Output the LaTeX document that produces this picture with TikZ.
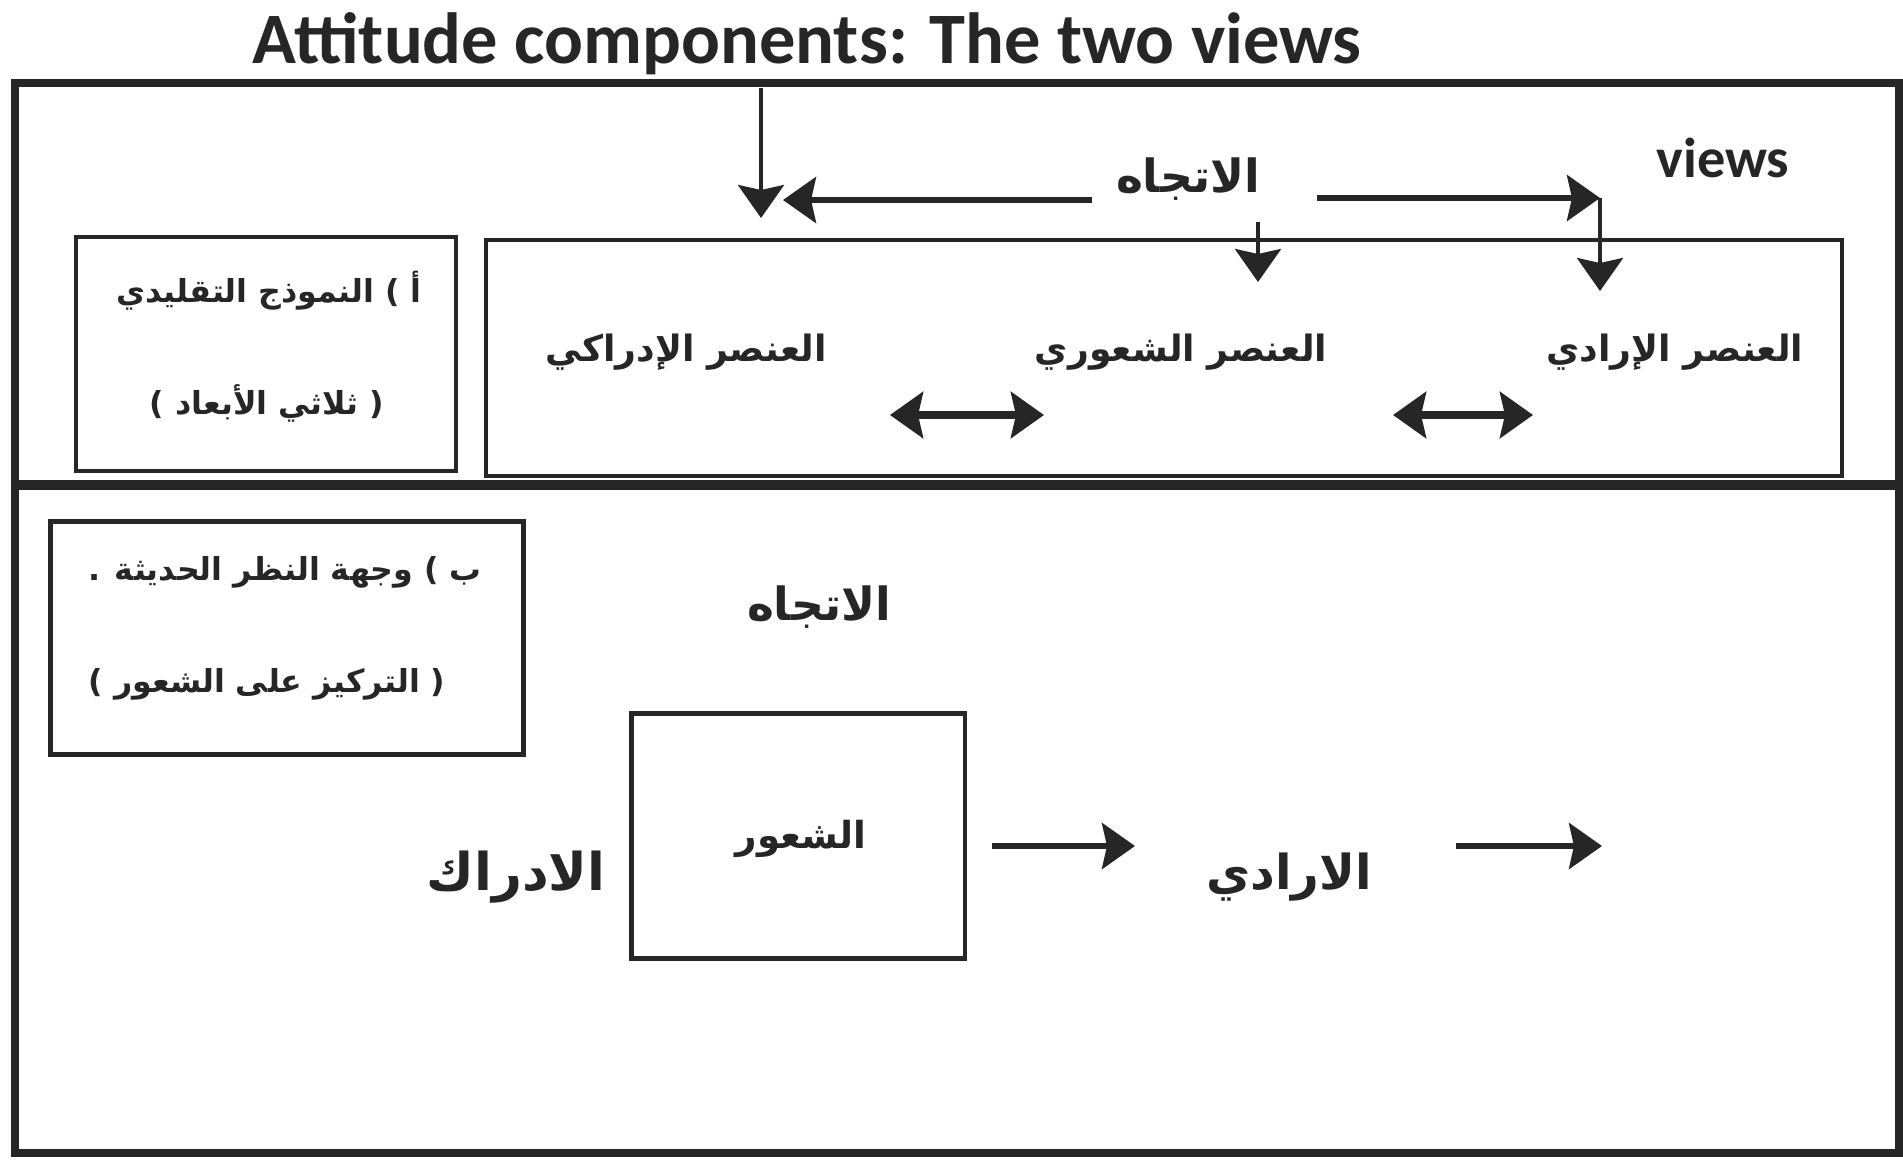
\documentclass[tikz,border=0pt]{standalone}
\usepackage{fontspec}
\setmainfont{Carlito}
\newfontfamily\arabicfont[Script=Arabic]{DejaVu Sans}
\TeXXeTstate=1
\usetikzlibrary{arrows.meta}

\begin{document}
\begin{tikzpicture}[x=0.01cm, y=-0.01cm, >={Stealth[length=3.3mm,width=4.6mm,inset=0.5mm]},
  every node/.style={text=black!85},
  frame/.style={draw=black!85, line width=2.3pt},
  box/.style={draw=black!85, line width=1.2pt},
  artiny/.style={font=\arabicfont\bfseries\fontsize{9}{11}\selectfont},
  arsmall/.style={font=\arabicfont\bfseries\fontsize{10.3}{12}\selectfont},
  arbig/.style={font=\arabicfont\bfseries\fontsize{13}{15}\selectfont},
  conn/.style={->, line width=1.5pt, draw=black!85}]
  \useasboundingbox (0,0) rectangle (1903,1163);

  % Title and frame
  \node[font=\bfseries\fontsize{20.6}{24}\selectfont] (title) at (807,44) {Attitude components: The two views};
  \draw[frame] (15,83) rectangle (1899,1153);
  \draw[frame, line width=2.8pt] (15,485) -- (1899,485);

  % a) the classic model
  \node[box, minimum width=3.8cm, minimum height=2.34cm] (boxA) at (266,354) {};
  \node[artiny] (boxA1) at (269,291) {\beginR النموذج التقليدي\endR\ ) \beginR أ\endR};
  \node[artiny] (boxA2) at (267,403) {) \beginR ثلاثي الأبعاد\endR\ (};
  \node[box, minimum width=13.55cm, minimum height=2.36cm] (compbox) at (1164,358) {};
  \node[font=\bfseries\fontsize{16}{19}\selectfont] (views) at (1723,158) {views};
  \node[arbig] (attTop) at (1188,179) {\beginR الاتجاه\endR};
  \node[arsmall] (cogn) at (686,352) {\beginR العنصر الإدراكي\endR};
  \node[arsmall] (affect) at (1181,352) {\beginR العنصر الشعوري\endR};
  \node[arsmall] (conat) at (1675,352) {\beginR العنصر الإرادي\endR};

  \coordinate (tipA) at (761,218);
  \coordinate (tipB) at (783,200);
  \coordinate (startB) at (1092,200);
  \coordinate (startC) at (1317,198);
  \coordinate (corner) at (1600,198);
  \coordinate (tipC) at (1600,291);
  \coordinate (startD) at (1258,222);
  \coordinate (tipD) at (1258,282);
  \draw[conn, line width=1.1pt] (title.south -| tipA) -- (tipA);
  \draw[conn] (startB) -- (tipB);
  \draw[conn] (startC) -- (corner);
  \draw[conn, line width=1.1pt] (corner) -- (tipC);
  \draw[conn, line width=1.1pt] (startD) -- (tipD);
  \draw[conn, <->, line width=2pt] (890,415) -- (1044,415);
  \draw[conn, <->, line width=2pt] (1393,415) -- (1533,415);

  % b) the modern view
  \node[box, line width=1.4pt, minimum width=4.73cm, minimum height=2.33cm] (boxB) at (287,638) {};
  \node[artiny] (boxB1) at (285,572) {. \beginR وجهة النظر الحديثة\endR\ ) \beginR ب\endR};
  \node[artiny] (boxB2) at (267,684) {) \beginR التركيز على الشعور\endR\ (};
  \node[arbig] (attLow) at (819,607) {\beginR الاتجاه\endR};
  \node[box, minimum width=3.33cm, minimum height=2.45cm] (feel) at (798,836) {};
  \node[arsmall, font=\arabicfont\bfseries\fontsize{10.6}{12}\selectfont] (feelTxt) at (801,839) {\beginR الشعور\endR};
  \node[arbig, font=\arabicfont\bfseries\fontsize{14.8}{17}\selectfont] (perc) at (516,877) {\beginR الادراك\endR};
  \node[arbig, font=\arabicfont\bfseries\fontsize{13.7}{16}\selectfont] (will) at (1289,877) {\beginR الارادي\endR};

  \coordinate (startE) at (992,846);
  \coordinate (tipE) at (1135,846);
  \coordinate (startF) at (1456,846);
  \coordinate (tipF) at (1602,846);
  \draw[conn] (startE) -- (tipE);
  \draw[conn] (startF) -- (tipF);
\end{tikzpicture}
\end{document}
